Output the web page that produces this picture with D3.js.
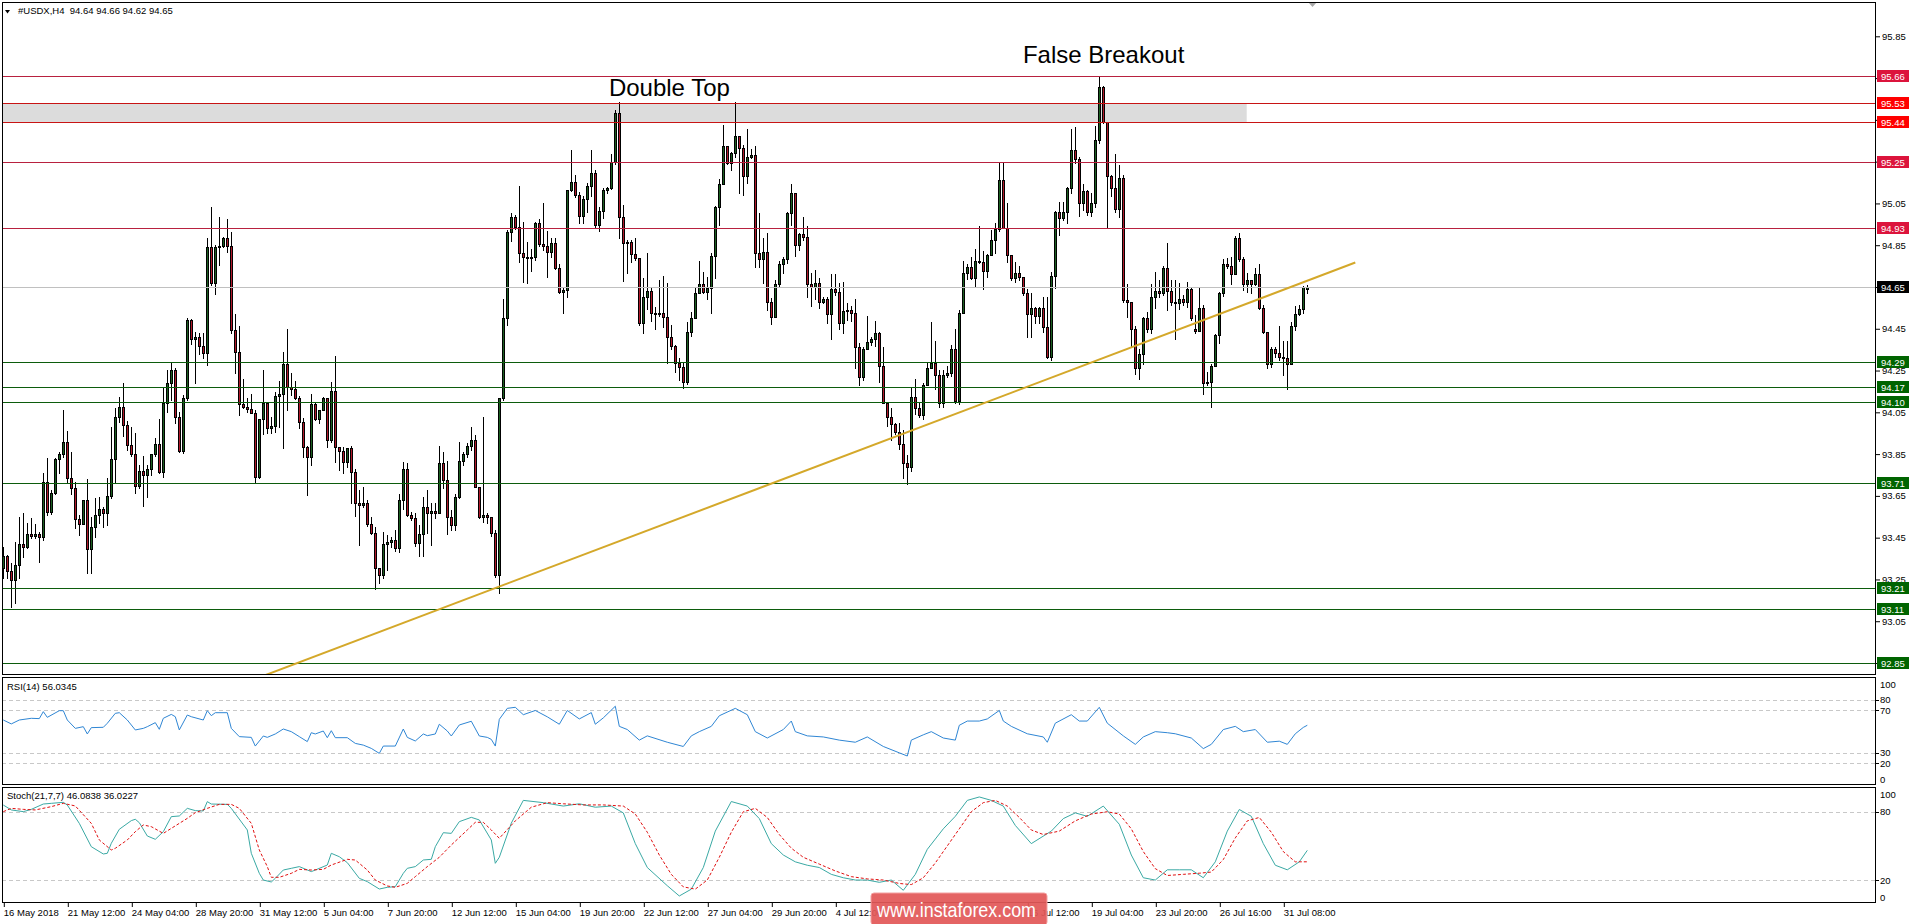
<!DOCTYPE html>
<html><head><meta charset="utf-8">
<script src="https://cdn.jsdelivr.net/npm/d3@7"></script>
<style>
body{margin:0;background:#fff;}
svg{display:block;}
text{font-family:"Liberation Sans",Arial,sans-serif;}
</style>
</head><body>
<svg id="c" width="1916" height="924"></svg>
<script>
// ---------------- DATA ----------------
const symbolTitle = "#USDX,H4  94.64 94.66 94.62 94.65";
const opens = [93.303,93.362,93.292,93.248,93.319,93.420,93.404,93.468,93.458,93.468,93.455,93.715,93.575,93.662,93.827,93.851,93.907,93.737,93.686,93.538,93.516,93.630,93.394,93.503,93.557,93.586,93.570,93.650,93.825,94.030,94.077,93.990,93.894,93.851,93.698,93.769,93.750,93.779,93.851,93.899,93.766,94.093,94.189,94.253,94.026,93.867,94.117,94.492,94.400,94.409,94.368,94.336,94.843,94.671,94.843,94.848,94.886,94.848,94.444,94.337,94.090,94.077,94.066,94.049,93.739,94.017,94.093,93.977,93.985,94.128,94.136,94.280,94.170,94.160,94.117,94.005,93.886,93.838,94.090,94.016,94.061,94.117,93.917,94.152,93.886,93.866,93.814,93.878,93.766,93.614,93.606,93.614,93.515,93.474,93.303,93.271,93.420,93.431,93.439,93.399,93.630,93.777,93.558,93.542,93.426,93.467,93.598,93.566,93.579,93.566,93.809,93.726,93.547,93.511,93.643,93.817,93.850,93.889,93.917,93.694,93.547,93.558,93.547,93.474,93.271,94.117,94.500,94.915,94.983,94.939,94.811,94.792,94.787,94.795,94.958,94.856,94.846,94.819,94.862,94.739,94.628,94.636,95.114,95.154,95.090,94.990,95.070,95.133,95.194,94.947,95.014,95.114,95.126,95.250,95.484,94.983,94.859,94.867,94.808,94.787,94.479,94.600,94.632,94.527,94.521,94.527,94.508,94.409,94.368,94.288,94.265,94.197,94.436,94.500,94.620,94.664,94.628,94.644,94.798,95.031,95.143,95.325,95.242,95.293,95.373,95.314,95.181,95.274,95.282,94.811,94.782,94.819,94.580,94.508,94.664,94.760,94.782,95.003,95.101,94.851,94.904,94.891,94.664,94.648,94.671,94.580,94.591,94.521,94.639,94.628,94.479,94.537,94.540,94.527,94.361,94.221,94.352,94.388,94.399,94.428,94.272,94.096,94.026,93.994,93.957,93.898,93.806,93.787,94.125,94.069,94.037,94.181,94.261,94.288,94.229,94.096,94.229,94.237,94.352,94.106,94.527,94.719,94.747,94.691,94.776,94.771,94.728,94.803,94.875,94.926,95.162,94.931,94.803,94.691,94.719,94.699,94.620,94.521,94.548,94.511,94.548,94.460,94.316,94.703,95.011,94.979,95.011,95.122,95.306,95.261,95.050,95.111,95.011,95.054,95.354,95.606,95.441,95.181,95.122,95.022,95.170,94.588,94.580,94.447,94.261,94.329,94.500,94.447,94.604,94.632,94.620,94.739,94.632,94.580,94.575,94.591,94.580,94.639,94.447,94.441,94.548,94.192,94.197,94.272,94.420,94.620,94.760,94.750,94.712,94.883,94.782,94.664,94.683,94.664,94.712,94.548,94.436,94.281,94.352,94.336,94.316,94.308,94.281,94.463,94.521,94.543,94.640];
const highs = [93.407,93.367,93.327,93.431,93.551,93.570,93.519,93.543,93.516,93.476,93.761,93.830,93.678,93.830,93.862,94.061,93.961,93.859,93.718,93.559,93.630,93.731,93.551,93.642,93.647,93.595,93.734,93.982,94.069,94.122,94.192,94.010,93.982,93.950,93.798,93.841,93.798,93.851,93.926,94.017,94.170,94.253,94.293,94.260,94.053,94.133,94.500,94.495,94.436,94.432,94.428,94.883,95.032,94.851,94.987,94.888,94.976,94.915,94.521,94.463,94.208,94.117,94.136,94.061,94.017,94.253,94.101,94.029,94.149,94.202,94.340,94.449,94.240,94.202,94.128,94.021,93.889,94.138,94.096,94.061,94.125,94.109,94.197,94.320,93.886,93.886,93.878,93.889,93.777,93.678,93.694,93.630,93.550,93.499,93.303,93.479,93.463,93.455,93.487,93.659,93.814,93.806,93.574,93.566,93.511,93.646,93.678,93.614,93.614,93.889,93.862,93.817,93.582,93.659,93.906,93.862,93.905,93.981,93.941,93.691,94.029,93.570,93.542,93.487,94.117,94.591,94.923,95.006,94.995,95.133,94.960,94.867,94.830,94.963,94.977,95.050,94.920,94.883,94.883,94.760,94.644,95.114,95.306,95.186,95.106,95.086,95.146,95.306,95.210,95.034,95.122,95.130,95.287,95.497,95.537,95.042,94.875,94.875,94.883,94.790,94.691,94.811,94.644,94.556,94.683,94.703,94.667,94.468,94.372,94.308,94.292,94.484,94.532,94.652,94.775,94.724,94.699,94.814,95.038,95.165,95.425,95.325,95.298,95.537,95.370,95.330,95.405,95.309,95.325,95.003,94.883,94.907,94.596,94.683,94.776,94.795,95.010,95.143,95.101,94.910,94.987,94.942,94.715,94.731,94.691,94.604,94.600,94.712,94.712,94.671,94.675,94.572,94.559,94.591,94.380,94.364,94.511,94.409,94.489,94.436,94.361,94.096,94.069,94.000,93.997,93.965,93.846,94.165,94.208,94.101,94.192,94.293,94.484,94.393,94.253,94.253,94.272,94.372,94.447,94.540,94.776,94.760,94.795,94.830,94.942,94.824,94.808,94.923,94.955,95.242,95.242,95.050,94.803,94.771,94.750,94.699,94.639,94.620,94.556,94.556,94.600,94.604,94.724,95.015,95.058,95.058,95.130,95.405,95.417,95.271,95.143,95.114,95.101,95.421,95.657,95.610,95.441,95.186,95.287,95.234,95.186,94.664,94.575,94.463,94.352,94.508,94.532,94.664,94.724,94.683,94.750,94.862,94.683,94.683,94.667,94.612,94.675,94.652,94.516,94.652,94.564,94.245,94.281,94.425,94.628,94.782,94.787,94.795,94.894,94.910,94.795,94.715,94.683,94.739,94.760,94.564,94.431,94.361,94.361,94.463,94.393,94.393,94.484,94.559,94.564,94.655,94.660];
const lows = [93.256,93.256,93.117,93.136,93.256,93.356,93.399,93.447,93.447,93.335,93.439,93.559,93.563,93.660,93.758,93.838,93.714,93.658,93.495,93.463,93.516,93.283,93.283,93.455,93.522,93.503,93.511,93.639,93.710,94.006,93.937,93.870,93.841,93.666,93.686,93.602,93.647,93.750,93.841,93.761,93.742,94.053,94.109,93.998,93.862,93.857,94.110,94.377,94.189,94.329,94.309,94.277,94.660,94.617,94.755,94.843,94.819,94.432,94.237,94.037,94.069,94.053,94.045,93.714,93.734,93.946,93.949,93.949,93.957,93.978,93.878,94.061,94.133,94.112,93.977,93.838,93.654,93.798,94.013,93.997,94.061,93.886,93.910,93.814,93.774,93.761,93.790,93.614,93.554,93.415,93.595,93.506,93.467,93.203,93.231,93.255,93.295,93.407,93.388,93.383,93.586,93.554,93.535,93.410,93.362,93.362,93.471,93.415,93.542,93.566,93.686,93.467,93.487,93.487,93.638,93.798,93.838,93.870,93.691,93.542,93.526,93.518,93.458,93.263,93.183,94.110,94.468,94.872,94.926,94.771,94.675,94.671,94.728,94.779,94.846,94.827,94.699,94.792,94.734,94.620,94.527,94.600,95.111,95.079,94.958,94.958,95.011,95.086,94.936,94.920,94.979,95.102,95.117,95.239,94.883,94.680,94.715,94.771,94.779,94.468,94.428,94.543,94.489,94.447,94.511,94.460,94.288,94.352,94.245,94.205,94.165,94.186,94.415,94.505,94.623,94.623,94.591,94.527,94.691,94.947,95.146,95.239,95.210,95.271,95.102,95.090,95.149,95.266,94.747,94.747,94.671,94.540,94.473,94.540,94.652,94.715,94.763,94.947,94.798,94.827,94.875,94.600,94.559,94.591,94.548,94.572,94.479,94.399,94.612,94.447,94.428,94.492,94.489,94.261,94.181,94.205,94.352,94.372,94.368,94.197,94.093,93.985,93.917,93.946,93.873,93.734,93.707,93.771,94.042,94.026,94.016,94.181,94.261,94.160,94.077,94.077,94.218,94.224,94.096,94.090,94.527,94.687,94.687,94.648,94.763,94.639,94.699,94.808,94.811,94.920,94.931,94.771,94.683,94.675,94.683,94.612,94.409,94.409,94.479,94.476,94.436,94.308,94.300,94.644,94.899,94.971,94.958,95.101,95.242,94.990,95.019,94.995,94.990,95.034,95.338,95.437,94.931,95.086,95.011,94.983,94.580,94.508,94.364,94.233,94.208,94.281,94.436,94.431,94.548,94.604,94.612,94.540,94.564,94.399,94.543,94.564,94.556,94.492,94.428,94.444,94.138,94.181,94.077,94.276,94.380,94.607,94.739,94.664,94.715,94.776,94.636,94.628,94.623,94.659,94.543,94.431,94.261,94.269,94.313,94.300,94.229,94.160,94.280,94.444,94.516,94.527,94.620];
const closes = [93.362,93.292,93.248,93.319,93.420,93.404,93.468,93.458,93.468,93.455,93.715,93.575,93.662,93.827,93.851,93.907,93.737,93.686,93.538,93.516,93.630,93.394,93.503,93.557,93.586,93.570,93.650,93.825,94.030,94.077,93.990,93.894,93.851,93.698,93.769,93.750,93.779,93.851,93.899,93.766,94.093,94.189,94.253,94.026,93.867,94.117,94.492,94.400,94.409,94.368,94.336,94.843,94.671,94.843,94.848,94.886,94.848,94.444,94.337,94.090,94.077,94.066,94.049,93.739,94.017,94.093,93.977,93.985,94.128,94.136,94.280,94.170,94.160,94.117,94.005,93.886,93.838,94.090,94.016,94.061,94.117,93.917,94.152,93.886,93.866,93.814,93.878,93.766,93.614,93.606,93.614,93.515,93.474,93.303,93.271,93.420,93.431,93.439,93.399,93.630,93.777,93.558,93.542,93.426,93.467,93.598,93.566,93.579,93.566,93.809,93.726,93.547,93.511,93.643,93.817,93.850,93.889,93.917,93.694,93.547,93.558,93.547,93.474,93.271,94.117,94.500,94.915,94.983,94.939,94.811,94.792,94.787,94.795,94.958,94.856,94.846,94.819,94.862,94.739,94.628,94.636,95.114,95.154,95.090,94.990,95.070,95.133,95.194,94.947,95.014,95.114,95.126,95.250,95.484,94.983,94.859,94.867,94.808,94.787,94.479,94.600,94.632,94.527,94.521,94.527,94.508,94.409,94.368,94.288,94.265,94.197,94.436,94.500,94.620,94.664,94.628,94.644,94.798,95.031,95.143,95.325,95.242,95.293,95.373,95.314,95.181,95.274,95.282,94.811,94.782,94.819,94.580,94.508,94.664,94.760,94.782,95.003,95.101,94.851,94.904,94.891,94.664,94.648,94.671,94.580,94.591,94.521,94.639,94.628,94.479,94.537,94.540,94.527,94.361,94.221,94.352,94.388,94.399,94.428,94.272,94.096,94.026,93.994,93.957,93.898,93.806,93.787,94.125,94.069,94.037,94.181,94.261,94.288,94.229,94.096,94.229,94.237,94.352,94.106,94.527,94.719,94.747,94.691,94.776,94.771,94.728,94.803,94.875,94.926,95.162,94.931,94.803,94.691,94.719,94.699,94.620,94.521,94.548,94.511,94.548,94.460,94.316,94.703,95.011,94.979,95.011,95.122,95.306,95.261,95.050,95.111,95.011,95.054,95.354,95.606,95.441,95.181,95.122,95.022,95.170,94.588,94.580,94.447,94.261,94.329,94.500,94.447,94.604,94.632,94.620,94.739,94.632,94.580,94.575,94.591,94.580,94.639,94.500,94.441,94.548,94.192,94.197,94.272,94.420,94.620,94.760,94.750,94.712,94.883,94.782,94.664,94.683,94.664,94.712,94.548,94.436,94.281,94.352,94.336,94.316,94.308,94.281,94.463,94.521,94.543,94.648,94.650];

const rsiPts = [[0,61.0],[2,57.3],[4,61.0],[7,62.6],[9,62.3],[10,68.9],[11,63.5],[14,69.8],[15,69.8],[16,61.0],[18,53.1],[20,54.7],[21,47.8],[22,53.8],[25,54.1],[26,57.9],[28,67.3],[29,67.9],[31,61.0],[33,51.6],[35,53.1],[36,54.7],[38,58.5],[39,52.2],[40,62.6],[42,66.3],[43,64.1],[44,51.6],[46,65.7],[47,64.1],[50,61.0],[51,69.8],[52,65.1],[53,67.9],[56,67.9],[57,53.1],[59,45.3],[62,44.6],[63,36.4],[65,45.9],[66,44.6],[68,47.8],[70,52.5],[72,50.0],[74,45.3],[76,40.6],[77,49.0],[78,47.8],[80,50.6],[81,44.3],[82,50.9],[83,44.3],[86,44.3],[88,38.9],[90,37.3],[92,34.2],[94,29.5],[95,36.4],[98,36.4],[100,52.5],[101,44.6],[103,41.2],[105,47.8],[106,46.2],[108,47.8],[109,57.0],[111,50.6],[112,45.9],[114,56.3],[117,59.8],[119,45.9],[121,44.6],[122,42.7],[123,36.4],[124,61.6],[126,72],[128,73],[130,66],[133,70],[136,64],[139,57],[141,70],[144,62],[147,68],[148,57],[150,63],[153,74],[154,55],[156,52],[159,42],[161,46],[166,40],[170,36],[172,46],[174,50],[177,55],[179,65],[183,72],[186,66],[188,50],[191,44],[195,52],[197,60],[198,50],[201,46],[205,45],[209,42],[213,40],[216,45],[220,36],[224,30],[226,27],[227,42],[230,47],[232,50],[235,44],[238,42],[239,56],[241,60],[244,60],[246,62],[249,70],[250,60],[252,55],[256,48],[260,45],[261,40],[263,58],[267,66],[269,60],[271,60],[274,73],[276,58],[280,46],[283,38],[285,45],[288,50],[291,49],[293,48],[297,44],[300,34],[302,38],[305,52],[308,55],[310,50],[313,52],[316,40],[319,41],[321,38],[323,48],[325,54],[326,56.03]];
const stochMainPts = [[0,85.9],[2,81.6],[5,80.1],[7,82.1],[10,86.8],[12,87.4],[15,88.3],[16,85.9],[19,69.8],[22,49.3],[25,42.9],[26,43.5],[27,52.3],[29,64.6],[32,72.2],[33,73.4],[34,70.4],[36,58.7],[38,55.8],[40,62.5],[42,75.7],[44,76.3],[46,83.0],[48,81.0],[50,80.7],[51,88.9],[52,86.8],[56,86.5],[57,83.0],[61,64.0],[62,43.5],[64,25.9],[65,20.0],[67,18.3],[68,21.5],[70,28.8],[72,30.3],[74,31.8],[77,27.4],[78,28.8],[81,33.2],[82,43.5],[84,40.5],[86,35.3],[89,21.5],[91,18.6],[94,12.1],[96,13.6],[98,14.2],[100,25.9],[101,30.3],[103,31.8],[105,37.6],[107,38.2],[108,49.3],[110,61.6],[112,61.0],[114,71.3],[117,75.1],[119,72.8],[122,55.2],[123,34.7],[124,40.0],[127,70],[130,90],[135,88],[140,85],[144,87],[148,84],[152,85],[155,79],[158,52],[161,31],[166,15],[169,6],[172,12],[175,31],[178,63],[182,89],[186,85],[189,74],[192,52],[195,42],[198,36],[201,33],[204,31],[207,25],[210,22],[213,20],[216,20],[219,18],[222,20],[225,11],[228,25],[231,47],[235,65],[238,76],[241,90],[244,93],[247,90],[250,85],[253,68],[257,52],[262,63],[265,74],[268,79],[271,76],[275,85],[279,69],[282,42],[285,22],[288,20],[291,29],[294,29],[297,29],[300,22],[303,36],[306,63],[309,82],[312,76],[315,52],[318,33],[321,29],[324,36],[326,46.08]];
const stochSignalPts = [[0,80.1],[2,83.0],[5,82.1],[8,81.6],[12,84.5],[15,87.4],[18,85.1],[22,69.8],[24,55.2],[27,46.4],[28,47.9],[31,55.2],[33,62.5],[35,68.4],[37,66.9],[40,61.0],[42,65.4],[46,74.2],[48,79.2],[51,83.0],[54,86.5],[57,86.5],[59,83.0],[62,69.8],[64,46.4],[66,31.8],[67,22.4],[69,22.4],[72,25.9],[74,29.4],[77,28.8],[80,29.4],[82,33.2],[86,38.2],[88,37.6],[91,28.8],[93,20.0],[96,14.8],[98,13.6],[101,17.1],[103,23.0],[106,31.8],[109,40.0],[112,50.8],[116,64.0],[118,70.7],[120,70.7],[122,64.0],[124,56.7],[128,72],[132,84],[136,88],[140,87],[145,86],[150,86],[155,85],[158,78],[161,62],[164,42],[167,25],[170,14],[173,12],[176,20],[179,40],[182,62],[185,80],[188,83],[191,75],[194,60],[197,48],[200,40],[204,34],[208,28],[212,23],[216,21],[220,20],[224,17],[227,16],[230,22],[233,35],[236,50],[239,65],[242,80],[245,88],[248,90],[251,85],[254,75],[257,64],[260,60],[264,63],[268,72],[272,78],[276,80],[279,78],[282,65],[285,45],[288,30],[291,24],[295,25],[299,26],[302,27],[305,38],[308,57],[311,72],[314,75],[317,62],[320,45],[323,36],[326,36.02]];

const priceTicks = [95.85,95.65,95.45,95.25,95.05,94.85,94.65,94.45,94.25,94.05,93.85,93.65,93.45,93.25,93.05,92.85];
const levelPrices = [95.66,95.53,95.44,95.25,94.93,94.29,94.17,94.10,93.71,93.21,93.11,92.85];
const levelKinds  = ["crimson","red","red","crimson","crimson","green","green","green","green","green","green","green"];
const currentPrice = 94.65;
const zoneTop = 95.53, zoneBottom = 95.44, zoneEndBar = 310.85;
const trendBars = [40, 338], trendPrices = [92.607, 94.767];
const timeTickBars = [0,16,32,48,64,80,96,112,128,144,160,176,192,208,224,240,256,272,288,304,320];
// labels under the watermark are hidden in the source picture
const timeLabels = ["16 May 2018","21 May 12:00","24 May 04:00","28 May 20:00","31 May 12:00","5 Jun 04:00","7 Jun 20:00","12 Jun 12:00","15 Jun 04:00","19 Jun 20:00","22 Jun 12:00","27 Jun 04:00","29 Jun 20:00","4 Jul 12:00","","","16 Jul 12:00","19 Jul 04:00","23 Jul 20:00","26 Jul 16:00","31 Jul 08:00"];
const rsiLevels = [80,70,30,20,0];
const rsiLabels = [100,80,70,30,20,0];
const stochLevels = [80,20];
const stochLabels = [100,80,20,0];
const notes = [{text:"Double Top", bar:151.4, price:95.564},{text:"False Breakout", bar:254.9, price:95.722}];

// ---------------- LAYOUT ----------------
const L = 2, R = 1876;
const P = {main:[2,675], rsi:[677,785], st:[787,903]};
const svg = d3.select("#c");
const x = d3.scaleLinear().domain([0,326]).range([3.3,1307.3]);
const y = d3.scaleLinear().domain([92.85,95.66]).range([663,76]);
const yR = d3.scaleLinear().domain([0,100]).range([784.6,678.7]);
const yS = d3.scaleLinear().domain([0,100]).range([902.8,789]);
const px = v => Math.round(v)+0.5;
const colors = {crimson:"#dc143c", red:"#ff0000", green:"#006400"};
const lineColors = {crimson:"#b8213f", red:"#c81414", green:"#0c5c0c"};
const FS = "9.5px";

svg.append("rect").attr("width",1916).attr("height",924).attr("fill","#fff");
const defs = svg.append("defs");
Object.entries(P).forEach(([k,[t,b]])=>{
  defs.append("clipPath").attr("id","clip-"+k).append("rect").attr("x",L).attr("y",t).attr("width",R-L).attr("height",b-t);
});

// main panel
const gm = svg.append("g").attr("clip-path","url(#clip-main)");
gm.append("rect").attr("x",x(-5)).attr("width",x(zoneEndBar)-x(-5))
  .attr("y",y(zoneTop)).attr("height",y(zoneBottom)-y(zoneTop)).attr("fill","#dcdcdc");

// candles
const idx = d3.range(closes.length);
const cg = gm.append("g");
cg.selectAll("line.w").data(idx).join("line").attr("class","w")
  .attr("x1",i=>px(x(i))).attr("x2",i=>px(x(i)))
  .attr("y1",i=>Math.round(y(highs[i]))).attr("y2",i=>Math.round(y(lows[i]))+1)
  .attr("stroke","#000").attr("stroke-width",1);
cg.selectAll("rect.b").data(idx.filter(i=>Math.abs(Math.round(y(opens[i]))-Math.round(y(closes[i])))>=1)).join("rect").attr("class","b")
  .attr("x",i=>Math.round(x(i))-0.5).attr("width",2)
  .attr("y",i=>Math.round(y(Math.max(opens[i],closes[i])))+0.5)
  .attr("height",i=>Math.round(y(Math.min(opens[i],closes[i])))-Math.round(y(Math.max(opens[i],closes[i]))))
  .attr("fill",i=>closes[i]>=opens[i]?"#1b5e20":"#b0182a")
  .attr("stroke","#000").attr("stroke-width",1);
cg.selectAll("line.d").data(idx.filter(i=>Math.abs(Math.round(y(opens[i]))-Math.round(y(closes[i])))<1)).join("line").attr("class","d")
  .attr("x1",i=>Math.round(x(i))-1).attr("x2",i=>Math.round(x(i))+2)
  .attr("y1",i=>px(y(closes[i]))).attr("y2",i=>px(y(closes[i])))
  .attr("stroke","#000").attr("stroke-width",1);

// level lines
levelPrices.forEach((p,k)=>{
  gm.append("line").attr("x1",L).attr("x2",R).attr("y1",px(y(p))).attr("y2",px(y(p)))
    .attr("stroke",lineColors[levelKinds[k]]).attr("stroke-width",1);
});
gm.append("line").attr("x1",L).attr("x2",R).attr("y1",px(y(currentPrice))).attr("y2",px(y(currentPrice)))
  .attr("stroke","#c0c0c0").attr("stroke-width",1);
// trendline
gm.append("line").attr("x1",x(trendBars[0])).attr("y1",y(trendPrices[0]))
  .attr("x2",x(trendBars[1])).attr("y2",y(trendPrices[1]))
  .attr("stroke","#d4a82a").attr("stroke-width",2);

// annotations
notes.forEach(n=>{
  svg.append("text").attr("x",x(n.bar)).attr("y",y(n.price)).attr("font-size","24px").attr("fill","#000").text(n.text);
});

// title
svg.append("path").attr("d","M5,10 L10,10 L7.5,13.5 Z").attr("fill","#000");
svg.append("text").attr("x",18).attr("y",14).attr("font-size",FS).attr("fill","#000").attr("xml:space","preserve").text(symbolTitle);
// shift marker
svg.append("path").attr("d","M1308,2 L1317,2 L1312.5,7 Z").attr("fill","#a8a8a8");

// RSI panel
const gr = svg.append("g").attr("clip-path","url(#clip-rsi)");
rsiLevels.forEach(v=>{
  gr.append("line").attr("x1",L).attr("x2",R).attr("y1",px(yR(v))).attr("y2",px(yR(v)))
    .attr("stroke","#c8c8c8").attr("stroke-dasharray","4,3");
});
gr.append("path").datum(rsiPts).attr("fill","none").attr("stroke","#2f86d4").attr("stroke-width",1)
  .attr("d",d3.line().x(d=>x(d[0])).y(d=>yR(d[1])));
svg.append("text").attr("x",7).attr("y",690).attr("font-size",FS).text("RSI(14) 56.0345");

// Stoch panel
const gs = svg.append("g").attr("clip-path","url(#clip-st)");
stochLevels.forEach(v=>{
  gs.append("line").attr("x1",L).attr("x2",R).attr("y1",px(yS(v))).attr("y2",px(yS(v)))
    .attr("stroke","#c8c8c8").attr("stroke-dasharray","4,3");
});
gs.append("path").datum(stochMainPts).attr("fill","none").attr("stroke","#3aa9a4").attr("stroke-width",1)
  .attr("d",d3.line().x(d=>x(d[0])).y(d=>yS(d[1])));
gs.append("path").datum(stochSignalPts).attr("fill","none").attr("stroke","#e01010").attr("stroke-width",1)
  .attr("stroke-dasharray","3,2")
  .attr("d",d3.line().x(d=>x(d[0])).y(d=>yS(d[1])));
svg.append("text").attr("x",7).attr("y",799).attr("font-size",FS).text("Stoch(21,7,7) 46.0838 36.0227");

// panel frames
Object.values(P).forEach(([t,b])=>{
  svg.append("rect").attr("x",L+0.5).attr("y",t+0.5).attr("width",R-L-1).attr("height",b-t-1)
    .attr("fill","none").attr("stroke","#000").attr("stroke-width",1);
});

// price axis
const ax = svg.append("g").attr("transform",`translate(${R},0)`)
  .call(d3.axisRight(y).tickValues(priceTicks).tickSize(4).tickPadding(2).tickFormat(d3.format(".2f")));
ax.select(".domain").remove();
ax.selectAll("text").attr("font-size",FS).attr("font-family","Liberation Sans, Arial").attr("fill","#000");
ax.selectAll("line").attr("stroke","#000");

// level labels
function tag(p,bg){
  const yy = Math.round(y(p));
  svg.append("rect").attr("x",R+1).attr("y",yy-6).attr("width",32).attr("height",12).attr("fill",bg);
  svg.append("text").attr("x",R+5).attr("y",yy+3.5).attr("font-size",FS).attr("fill","#fff").text(p.toFixed(2));
}
levelPrices.forEach((p,k)=>tag(p,colors[levelKinds[k]]));
tag(currentPrice,"#000");

// RSI / stoch axes
function subAxis(scale,vals,top,bot,ticks){
  vals.forEach(v=>{
    const yy = Math.min(Math.max(scale(v),top+7),bot-6);
    if(ticks.includes(v)) svg.append("line").attr("x1",R).attr("x2",R+3).attr("y1",px(scale(v))).attr("y2",px(scale(v))).attr("stroke","#000");
    svg.append("text").attr("x",R+4).attr("y",yy+3.5).attr("font-size",FS).text(v);
  });
}
subAxis(yR,rsiLabels,P.rsi[0],P.rsi[1],[80,70,30,20]);
subAxis(yS,stochLabels,P.st[0],P.st[1],[80,20]);

// time axis
const tx = svg.append("g").attr("transform",`translate(0,${P.st[1]})`)
  .call(d3.axisBottom(x).tickValues(timeTickBars).tickSize(4).tickPadding(2).tickFormat((d,i)=>timeLabels[i]));
tx.select(".domain").remove();
tx.selectAll("line").attr("stroke","#000").attr("transform","translate(0.5,0)");
tx.selectAll("text").attr("text-anchor","start").attr("x",0).attr("dy","0.71em").attr("font-size",FS)
  .attr("font-family","Liberation Sans, Arial").attr("fill","#000");

// watermark
svg.append("rect").attr("x",871).attr("y",893).attr("width",176).attr("height",32).attr("rx",3)
  .attr("fill","#e25858").attr("fill-opacity",0.93).attr("stroke","#f3a0a0");
svg.append("text").attr("x",877).attr("y",917).attr("font-size","21px").attr("fill","#fff")
  .attr("textLength",159).attr("lengthAdjust","spacingAndGlyphs").text("www.instaforex.com");
</script>
</body></html>
